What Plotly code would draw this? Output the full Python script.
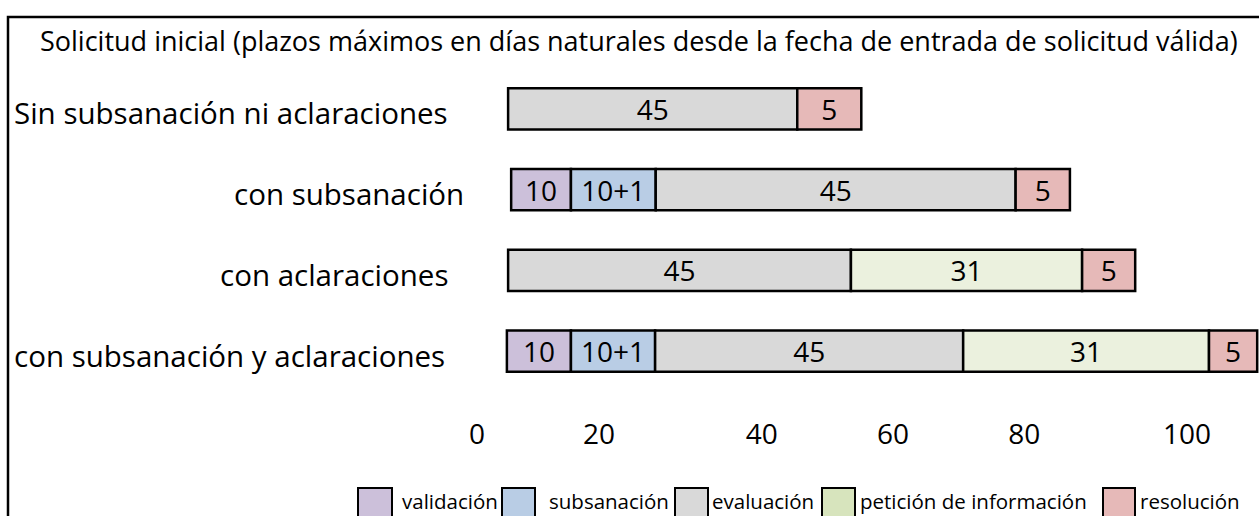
import plotly.graph_objects as go

W, H = 1259, 516

# ---------------- data ----------------
rows = ["Sin subsanación ni aclaraciones", "con subsanación",
        "con aclaraciones", "con subsanación y aclaraciones"]
phases = ["validación", "subsanación", "evaluación",
          "petición de información", "resolución"]
bar_colors = ["#CCC0DA", "#B9CDE5", "#D9D9D9", "#EBF1DE", "#E6B9B8"]
legend_colors = ["#CCC0DA", "#B9CDE5", "#D9D9D9", "#D7E4BD", "#E6B9B8"]

# where each row's bar begins (axis units)
row_start = [5.1, 5.6, 5.1, 4.9]

# drawn length of each segment (axis units)
len_validacion = [None, 9.8, None, 10.5]
len_subsanacion = [None, 13.9, None, 13.8]
len_evaluacion = [47.4, 59.0, 56.2, 50.5]
len_peticion = [None, None, 37.9, 40.3]
len_resolucion = [10.5, 8.9, 8.7, 7.9]

# label written in each segment (days)
txt_validacion = [None, "10", None, "10"]
txt_subsanacion = [None, "10+1", None, "10+1"]
txt_evaluacion = ["45", "45", "45", "45"]
txt_peticion = [None, None, "31", "31"]
txt_resolucion = ["5", "5", "5", "5"]

tick_pos = [0, 20, 46.7, 68.2, 89.7, 116.4]
tick_text = ["0", "20", "40", "60", "80", "100"]

title = ("Solicitud inicial (plazos máximos en días naturales desde la fecha "
         "de entrada de solicitud válida)")

seg_lengths = [len_validacion, len_subsanacion, len_evaluacion,
               len_peticion, len_resolucion]
seg_texts = [txt_validacion, txt_subsanacion, txt_evaluacion,
             txt_peticion, txt_resolucion]

FONT = "Open Sans"

# ---------------- figure ----------------
fig = go.Figure()
cursor = list(row_start)
for p, name in enumerate(phases):
    bases, lens, texts = [], [], []
    for r in range(len(rows)):
        L = seg_lengths[p][r]
        if L is None:
            bases.append(None); lens.append(None); texts.append(None)
        else:
            bases.append(cursor[r]); lens.append(L); texts.append(seg_texts[p][r])
            cursor[r] += L
    fig.add_trace(go.Bar(
        y=rows, x=lens, base=bases, orientation="h", name=name,
        marker=dict(color=bar_colors[p], line=dict(color="black", width=2.5)),
        text=texts, textposition="inside", insidetextanchor="middle",
        textangle=0, constraintext="none",
        textfont=dict(size=28, color="black", family=FONT),
        width=0.51, showlegend=False, hoverinfo="skip",
    ))

px_to_x = lambda px: px / W
py_to_y = lambda py: 1 - py / H

# plot area: from top (0 px) to 415 px
bottom_px = 415
c0, step = 108.8, 80.8
y_lo = (bottom_px - c0) / step
y_hi = -c0 / step

fig.update_layout(
    width=W, height=H,
    margin=dict(l=0, r=0, t=0, b=0),
    paper_bgcolor="white", plot_bgcolor="white",
    barmode="overlay",
    font=dict(family=FONT, color="black"),
    xaxis=dict(range=[-477 / 6.1, (W - 477) / 6.1], showgrid=False,
               zeroline=False, showline=False, ticks="",
               tickvals=tick_pos, ticktext=tick_text,
               tickfont=dict(size=28, family=FONT, color="black"),
               fixedrange=True),
    yaxis=dict(domain=[py_to_y(bottom_px), 1], range=[y_lo, y_hi],
               showgrid=False, zeroline=False, showline=False,
               showticklabels=False, ticks="", fixedrange=True),
)

annotations = []
# title
annotations.append(dict(text=title, x=px_to_x(639), y=py_to_y(40),
                        xref="paper", yref="paper", xanchor="center",
                        yanchor="middle", showarrow=False,
                        font=dict(size=27, family=FONT, color="black")))
# row labels
row_label_pos = [(12, "left"), (466, "right"), (450, "right"), (12, "left")]
for r, name in enumerate(rows):
    xp, anc = row_label_pos[r]
    annotations.append(dict(text=name, x=px_to_x(xp), y=name, xref="paper",
                            yref="y", xanchor=anc, yanchor="middle",
                            yshift=-4, showarrow=False,
                            font=dict(size=29.5, family=FONT, color="black")))

shapes = []
# frame (top & left visible)
shapes.append(dict(type="rect", xref="paper", yref="paper",
                   x0=px_to_x(8), x1=px_to_x(W + 20),
                   y0=py_to_y(H + 20), y1=py_to_y(17),
                   line=dict(color="black", width=2.5), fillcolor="rgba(0,0,0,0)"))

# custom legend
leg_box = [(358, 392), (502, 535), (675, 708), (822, 855), (1103, 1135)]
leg_txt = [400, 547, 710, 858, 1138]
for i, name in enumerate(phases):
    x0, x1 = leg_box[i]
    shapes.append(dict(type="rect", xref="paper", yref="paper",
                       x0=px_to_x(x0), x1=px_to_x(x1),
                       y0=py_to_y(H + 15), y1=py_to_y(488),
                       line=dict(color="black", width=2),
                       fillcolor=legend_colors[i]))
    annotations.append(dict(text=name, x=px_to_x(leg_txt[i]), y=py_to_y(501),
                            xref="paper", yref="paper", xanchor="left",
                            yanchor="middle", showarrow=False,
                            font=dict(size=20.5, family=FONT, color="black")))

fig.update_layout(annotations=annotations, shapes=shapes)

fig.write_html("out.html",
               config={"displayModeBar": False},
               post_script="document.body.style.margin='0';"
                           "document.body.style.overflow='hidden';")
